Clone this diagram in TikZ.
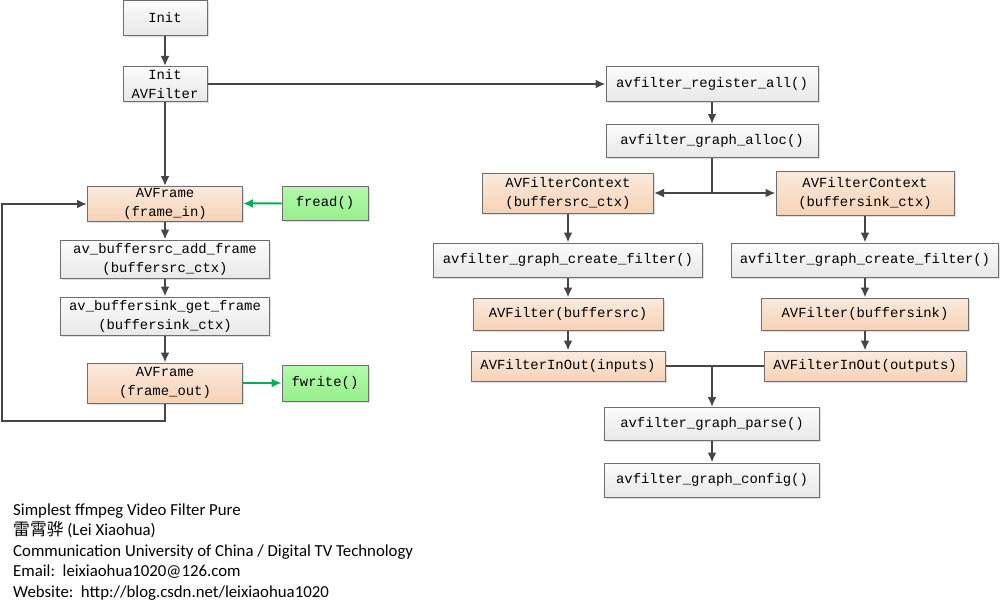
\documentclass[tikz,border=0pt]{standalone}
\usepackage{fontspec}
\setmonofont{Liberation Mono}
\newfontfamily\notefont{Carlito}
\newfontfamily\cjk{Noto Sans CJK SC}
\usetikzlibrary{positioning, shadows, arrows.meta}
\definecolor{edgegrey}{RGB}{70,70,70}
\definecolor{boxgrey}{RGB}{110,110,110}
\definecolor{greytop}{RGB}{252,252,252}
\definecolor{greybot}{RGB}{232,232,232}
\definecolor{peachtop}{RGB}{251,234,222}
\definecolor{peachbot}{RGB}{247,210,182}
\definecolor{greentop}{RGB}{178,250,170}
\definecolor{greenbot}{RGB}{150,240,140}
\definecolor{greenline}{RGB}{0,176,80}

\begin{document}
\begin{tikzpicture}[
          x = 1pt, y = -1pt,
          font = \ttfamily\fontsize{13.9}{19}\selectfont,
          inner sep = 0, align = center
        ]
          \tikzstyle {box} = [draw = boxgrey, line width = 1pt, shape = rectangle,
            drop shadow = {shadow xshift = 1.5pt, shadow yshift = -1.5pt, opacity = 0.25}]
          \tikzstyle {call} = [box, top color = greytop, bottom color = greybot]
          \tikzstyle {data} = [box, top color = peachtop, bottom color = peachbot]
          \tikzstyle {io} = [box, top color = greentop, bottom color = greenbot]
          \tikzstyle {flow} = [draw = edgegrey, line width = 2pt, -{Latex[length = 10pt, width = 9pt]}]
          \tikzstyle {feed} = [flow, draw = greenline]
          \tikzstyle {note} = [font = \notefont\fontsize{16.8}{18}\selectfont, anchor = base west]
          \useasboundingbox (0,0) rectangle (1004,610);
          % main loop
          \path node (init) [call, minimum width = 84, minimum height = 35] at (165,18) {Init};
          \path node (initfilter) [call, minimum width = 84, minimum height = 35] at (165,84) {Init\\AVFilter};
          \path node (framein) [data, minimum width = 155, minimum height = 35] at (165,204) {AVFrame\\(frame\_in)};
          \path node (fread) [io, minimum width = 86, minimum height = 34] at (325,203) {fread()};
          \path node (srcadd) [call, minimum width = 209, minimum height = 38] at (165,259) {av\_buffersrc\_add\_frame\\(buffersrc\_ctx)};
          \path node (sinkget) [call, minimum width = 209, minimum height = 38] at (165,316) {av\_buffersink\_get\_frame\\(buffersink\_ctx)};
          \path node (frameout) [data, minimum width = 155, minimum height = 40] at (165,383) {AVFrame\\(frame\_out)};
          \path node (fwrite) [io, minimum width = 86, minimum height = 36] at (325,383) {fwrite()};
          % filter graph
          \path node (register) [call, minimum width = 212, minimum height = 34] at (712,84) {avfilter\_register\_all()};
          \path node (alloc) [call, minimum width = 212, minimum height = 33] at (712,141) {avfilter\_graph\_alloc()};
          \path node (srcctx) [data, minimum width = 171, minimum height = 40] at (568,193) {AVFilterContext\\(buffersrc\_ctx)};
          \path node (sinkctx) [data, minimum width = 178, minimum height = 44] at (865,193) {AVFilterContext\\(buffersink\_ctx)};
          \path node (srccreate) [call, minimum width = 269, minimum height = 34] at (568,260) {avfilter\_graph\_create\_filter()};
          \path node (sinkcreate) [call, minimum width = 267, minimum height = 34] at (865,260) {avfilter\_graph\_create\_filter()};
          \path node (srcfilter) [data, minimum width = 190, minimum height = 32] at (568,314) {AVFilter(buffersrc)};
          \path node (sinkfilter) [data, minimum width = 207, minimum height = 32] at (865,314) {AVFilter(buffersink)};
          \path node (inputs) [data, minimum width = 194, minimum height = 30] at (568,366) {AVFilterInOut(inputs)};
          \path node (outputs) [data, minimum width = 202, minimum height = 30] at (865,366) {AVFilterInOut(outputs)};
          \path node (parse) [call, minimum width = 215, minimum height = 33] at (712,424) {avfilter\_graph\_parse()};
          \path node (config) [call, minimum width = 215, minimum height = 34] at (712,480) {avfilter\_graph\_config()};
          \coordinate (split) at (712,193);
          \coordinate (merge) at (712,366);
          % place edges
          \draw [flow] (init) -- (initfilter);
          \draw [flow] (initfilter) -- (framein);
          \draw [flow] (initfilter) -- (register);
          \draw [feed] (fread) -- (framein);
          \draw [feed] (frameout) -- (fwrite);
          \foreach \a/\b in {framein/srcadd, srcadd/sinkget, sinkget/frameout,
              register/alloc, srcctx/srccreate, sinkctx/sinkcreate, srccreate/srcfilter,
              sinkcreate/sinkfilter, srcfilter/inputs, sinkfilter/outputs, parse/config}
            { \draw [flow] (\a) -- (\b) ; } ;
          \draw [flow] (frameout.south) -- ++(0,17) -| (2,204) -- (framein.west);
          \draw [flow, -] (alloc.south) -- (split);
          \draw [flow] (split) -- (srcctx);
          \draw [flow] (split) -- (sinkctx);
          \draw [flow, -] (inputs) -- (outputs);
          \draw [flow] (merge) -- (parse);
          % credits
          \node (title) [note] at (13,515) {Simplest ffmpeg Video Filter Pure};
          \node (author) [note] at (13,535.5) {{\cjk 雷霄骅} (Lei Xiaohua)};
          \node (school) [note] at (13,556) {Communication University of China / Digital TV Technology};
          \node (email) [note] at (13,576.5) {Email:\ \ leixiaohua1020@126.com};
          \node (site) [note] at (13,597) {Website:\ \ http://blog.csdn.net/leixiaohua1020};
        \end{tikzpicture}
\end{document}
